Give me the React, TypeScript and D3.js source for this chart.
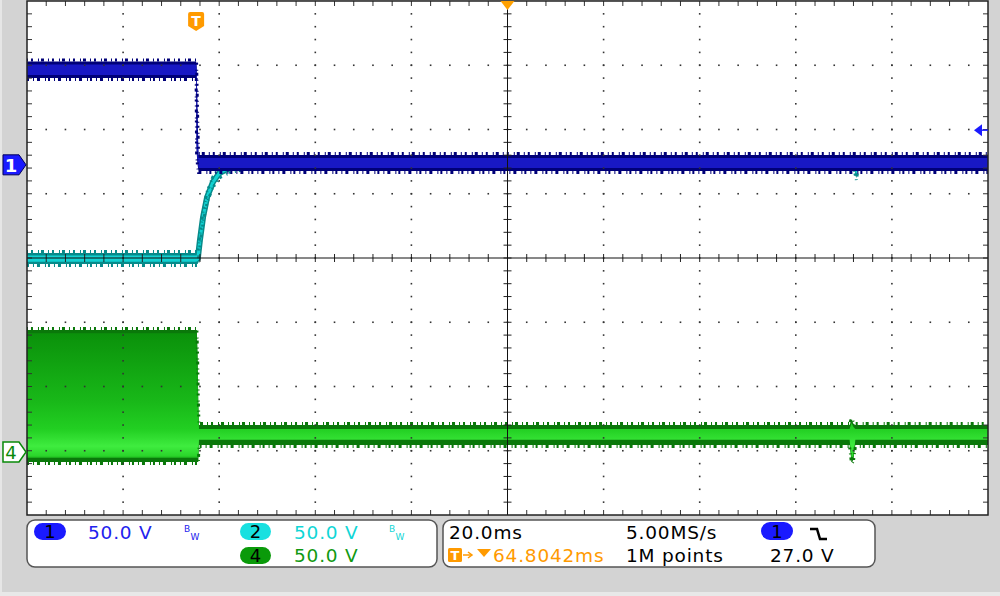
import React from "react";
import * as d3 from "d3";

const WIDTH = 1000;
const HEIGHT = 596;

// Oscilloscope settings
const TIME_PER_DIV = 20; // ms / div
const TRIGGER_DELAY = 64.8042; // ms
const X_DIVS = 10;
const Y_DIVS = 8;
const VOLTS_PER_DIV = 50;
const TRIGGER_LEVEL = 27.0; // V on ch1
const MINOR_PER_DIV = 5;

// channel ground offsets (divisions from screen centre)
const CH1_OFFSET = 1.45;
const CH2_OFFSET = 1.45;
const CH4_OFFSET = -3.02;

// Channel 1 (blue) envelope, volts vs ms
const ch1Time = [-35.2, 0.0, 0.1, 0.3, 0.5, 164.8];
const ch1High = [80.5, 80.5, 78, 40, 7.7, 7.7];
const ch1Low = [67.5, 67.5, 10, 0, -4.8, -4.8];
const ch1CoreHigh = [78.0, 78.0, 76, 30, 5.3, 5.3];
const ch1CoreLow = [70.0, 70.0, 14, 3, -2.5, -2.5];

// Channel 2 (cyan) envelope
const ch2Time = [-35.2, 0.35, 0.8, 1.45, 2.3, 3.5, 5.0, 7.1, 10.2, 136.9, 137.4, 137.8, 164.8];
const ch2High = [-68.6, -68.6, -55.5, -37.6, -22.0, -10.4, -2.6, 1.3, 3.6, 4.0, 4.0, 4.0, 4.0];
const ch2Low = [-77.2, -77.2, -61.5, -43.6, -28.0, -16.4, -8.6, -4.7, -2.4, -2.0, -10.5, -2.0, -2.0];
const ch2CoreHigh = [-70.5, -70.5, -56.8, -38.9, -23.3, -11.7, -3.9, 0.0, 2.3, 2.6, 2.6, 2.6, 2.6];
const ch2CoreLow = [-75.5, -75.5, -60.2, -42.3, -26.7, -15.1, -7.3, -3.4, -1.1, -0.6, -8.5, -0.6, -0.6];

// Channel 4 (green) envelope
const ch4Time = [-35.2, 0.15, 0.3, 0.45, 0.6, 136.0, 136.4, 136.8, 137.2, 164.8];
const ch4High = [95.0, 95.0, 75.0, 40.0, 21.0, 21.0, 25.0, 22.0, 21.0, 21.0];
const ch4Low = [-7.8, -7.8, -7.8, -7.8, 5.5, 5.5, -8.0, -6.0, 5.5, 5.5];
const ch4CoreHigh = [92.5, 92.5, 72.0, 36.0, 18.0, 18.0, 22.5, 19.5, 18.0, 18.0];
const ch4CoreLow = [-4.5, -4.5, -4.5, -4.5, 9.5, 9.5, -5.0, -3.5, 9.5, 9.5];

// Readout texts
const ch1Scale = "50.0 V";
const ch2Scale = "50.0 V";
const ch4Scale = "50.0 V";
const timeBase = "20.0ms";
const sampleRate = "5.00MS/s";
const triggerPos = "64.8042ms";
const recordLength = "1M points";
const triggerLevelText = "27.0 V";

// Layout
const PL = 27;
const PR = 988;
const PT = 1;
const PB = 515;

const xScale = d3
  .scaleLinear()
  .domain([TRIGGER_DELAY - (X_DIVS / 2) * TIME_PER_DIV, TRIGGER_DELAY + (X_DIVS / 2) * TIME_PER_DIV])
  .range([PL, PR]);
const yDiv = d3.scaleLinear().domain([-Y_DIVS / 2, Y_DIVS / 2]).range([PB, PT]);
const yVolt = (offset: number) => (v: number) => yDiv(offset + v / VOLTS_PER_DIV);

const FONT = "'DejaVu Sans', Verdana, sans-serif";

type BandProps = {
  time: number[];
  hi: number[];
  lo: number[];
  coreHi: number[];
  coreLo: number[];
  offset: number;
  outer: string;
  core: string;
  centerStroke?: number;
};

function Band({ time, hi, lo, coreHi, coreLo, offset, outer, core, centerStroke }: BandProps) {
  const y = yVolt(offset);
  const outerArea = d3
    .area<number>()
    .x((_, i) => xScale(time[i]))
    .y0((_, i) => y(lo[i]))
    .y1((_, i) => y(hi[i]));
  const coreArea = d3
    .area<number>()
    .x((_, i) => xScale(time[i]))
    .y0((_, i) => y(coreLo[i]))
    .y1((_, i) => y(coreHi[i]));
  const hiLine = d3
    .line<number>()
    .x((_, i) => xScale(time[i]))
    .y((_, i) => y(hi[i]));
  const loLine = d3
    .line<number>()
    .x((_, i) => xScale(time[i]))
    .y((_, i) => y(lo[i]));
  const midLine = d3
    .line<number>()
    .x((_, i) => xScale(time[i]))
    .y((_, i) => y((coreHi[i] + coreLo[i]) / 2));
  return (
    <g>
      {centerStroke ? (
        <path d={midLine(time) || ""} fill="none" stroke={outer} strokeWidth={centerStroke} strokeLinejoin="round" />
      ) : null}
      <path d={outerArea(time) || ""} fill={outer} />
      <path d={coreArea(time) || ""} fill={core} />
      {centerStroke ? (
        <path d={midLine(time) || ""} fill="none" stroke={core} strokeWidth={centerStroke - 3} strokeLinejoin="round" />
      ) : null}
      <path
        d={hiLine(time) || ""}
        transform="translate(0,-1.5)"
        fill="none"
        stroke={outer}
        strokeWidth={3}
        strokeDasharray="1 3 2 5 1 2 3 4"
      />
      <path
        d={loLine(time) || ""}
        transform="translate(0,1.5)"
        fill="none"
        stroke={outer}
        strokeWidth={3}
        strokeDasharray="2 4 1 3 3 5 1 2"
      />
    </g>
  );
}

function Graticule() {
  const x0 = xScale.domain()[0];
  const xMajor = d3.range(X_DIVS + 1).map((i) => x0 + i * TIME_PER_DIV);
  const yMajor = d3.range(Y_DIVS + 1).map((i) => -Y_DIVS / 2 + i);
  const xMinor = d3.range(X_DIVS * MINOR_PER_DIV + 1).map((i) => x0 + (i * TIME_PER_DIV) / MINOR_PER_DIV);
  const yMinor = d3.range(Y_DIVS * MINOR_PER_DIV + 1).map((i) => -Y_DIVS / 2 + i / MINOR_PER_DIV);
  const cx = xScale(TRIGGER_DELAY);
  const cy = yDiv(0);
  const dots: JSX.Element[] = [];
  xMajor.slice(1, -1).forEach((t, i) => {
    if (i === X_DIVS / 2 - 1) return;
    yMinor.slice(1, -1).forEach((d, j) => {
      dots.push(<rect key={`vx${i}-${j}`} x={xScale(t) - 0.8} y={yDiv(d) - 0.8} width={1.6} height={1.6} fill="#333" />);
    });
  });
  yMajor.slice(1, -1).forEach((d, i) => {
    if (i === Y_DIVS / 2 - 1) return;
    xMinor.slice(1, -1).forEach((t, j) => {
      dots.push(<rect key={`hy${i}-${j}`} x={xScale(t) - 0.8} y={yDiv(d) - 0.8} width={1.6} height={1.6} fill="#333" />);
    });
  });
  const ticks: JSX.Element[] = [];
  xMinor.slice(1, -1).forEach((t, j) => {
    const x = xScale(t);
    ticks.push(<line key={`tt${j}`} x1={x} x2={x} y1={PT} y2={PT + 5} stroke="#333" strokeWidth={1} />);
    ticks.push(<line key={`tb${j}`} x1={x} x2={x} y1={PB - 5} y2={PB} stroke="#333" strokeWidth={1} />);
    ticks.push(<line key={`tc${j}`} x1={x} x2={x} y1={cy - 4} y2={cy + 4} stroke="#222" strokeWidth={1} />);
  });
  yMinor.slice(1, -1).forEach((d, j) => {
    const y = yDiv(d);
    ticks.push(<line key={`tl${j}`} x1={PL} x2={PL + 5} y1={y} y2={y} stroke="#333" strokeWidth={1} />);
    ticks.push(<line key={`tr${j}`} x1={PR - 5} x2={PR} y1={y} y2={y} stroke="#333" strokeWidth={1} />);
    ticks.push(<line key={`tm${j}`} x1={cx - 4} x2={cx + 4} y1={y} y2={y} stroke="#222" strokeWidth={1} />);
  });
  return (
    <g>
      {dots}
      {ticks}
      <line x1={cx} x2={cx} y1={PT} y2={PB} stroke="#111" strokeWidth={1} />
      <line x1={PL} x2={PR} y1={cy} y2={cy} stroke="#111" strokeWidth={1} />
      <rect x={PL} y={PT} width={PR - PL} height={PB - PT} fill="none" stroke="#222" strokeWidth={1.5} />
    </g>
  );
}

function Pill({ x, y, w, h, fill, label }: { x: number; y: number; w: number; h: number; fill: string; label: string }) {
  return (
    <g>
      <rect x={x} y={y} width={w} height={h} rx={h / 2} fill={fill} />
      <text x={x + w / 2} y={y + h - 2.5} textAnchor="middle" fontFamily={FONT} fontSize={18} fill="#000">
        {label}
      </text>
    </g>
  );
}

function BwMark({ x, color }: { x: number; color: string }) {
  return (
    <g fontFamily={FONT} fontSize={9} fill={color}>
      <text x={x} y={532}>B</text>
      <text x={x + 6.5} y={540}>W</text>
    </g>
  );
}

export default function App() {
  const trigX = xScale(0);
  const ch1Y = yDiv(CH1_OFFSET);
  const ch4Y = yDiv(CH4_OFFSET);
  const trigLevelY = yVolt(CH1_OFFSET)(TRIGGER_LEVEL);
  const centerX = xScale(TRIGGER_DELAY);
  const txt = { fontFamily: FONT, fontSize: 18.5, letterSpacing: 0.8 } as const;

  return (
    <svg
      width={WIDTH}
      height={HEIGHT}
      viewBox={`0 0 ${WIDTH} ${HEIGHT}`}
      style={{ position: "absolute", left: 0, top: 0, display: "block" }}
    >
      <defs>
        <linearGradient
          id="greenBurst"
          gradientUnits="userSpaceOnUse"
          x1={0}
          x2={0}
          y1={yVolt(CH4_OFFSET)(95)}
          y2={yVolt(CH4_OFFSET)(-7.8)}
        >
          <stop offset="0" stopColor="#0a8f0a" />
          <stop offset="0.3" stopColor="#12a612" />
          <stop offset="0.55" stopColor="#19b919" />
          <stop offset="0.75" stopColor="#22cf22" />
          <stop offset="0.88" stopColor="#3fec3f" />
          <stop offset="0.95" stopColor="#2bd62b" />
          <stop offset="1" stopColor="#0c8a0c" />
        </linearGradient>
      </defs>
      <rect x={0} y={0} width={WIDTH} height={HEIGHT} fill="#d3d3d3" />
      <rect x={0} y={0} width={2} height={HEIGHT} fill="#e6e6e6" />
      <rect x={0} y={592} width={WIDTH} height={4} fill="#e8e8e8" />
      <rect x={PL} y={PT} width={PR - PL} height={PB - PT} fill="#ffffff" />

      {/* traces */}
      <Band time={ch4Time} hi={ch4High} lo={ch4Low} coreHi={ch4CoreHigh} coreLo={ch4CoreLow} offset={CH4_OFFSET} outer="#0a780a" core="url(#greenBurst)" />
      <Band time={ch2Time} hi={ch2High} lo={ch2Low} coreHi={ch2CoreHigh} coreLo={ch2CoreLow} offset={CH2_OFFSET} outer="#078a8a" core="#12d2d2" centerStroke={6} />
      <Band time={ch1Time} hi={ch1High} lo={ch1Low} coreHi={ch1CoreHigh} coreLo={ch1CoreLow} offset={CH1_OFFSET} outer="#000078" core="#1818c4" />

      <Graticule />

      {/* trigger position marker */}
      <path d={`M${centerX - 7},${PT} H${centerX + 7} L${centerX},${PT + 9} Z`} fill="#ffa000" />
      <g>
        <path
          d={`M${trigX - 6},12 H${trigX + 6} Q${trigX + 8},12 ${trigX + 8},14 V26 L${trigX},31 L${trigX - 8},26 V14 Q${trigX - 8},12 ${trigX - 6},12 Z`}
          fill="#ff9a00"
        />
        <text x={trigX} y={26} textAnchor="middle" fontFamily={FONT} fontSize={14} fontWeight="bold" fill="#fff">
          T
        </text>
      </g>

      {/* trigger level marker */}
      <line x1={PR - 12} x2={PR} y1={trigLevelY} y2={trigLevelY} stroke="#1a1aff" strokeWidth={1.5} />
      <path d={`M${PR - 14},${trigLevelY} L${PR - 6},${trigLevelY - 6} V${trigLevelY + 6} Z`} fill="#1a1aff" />

      {/* channel markers */}
      <g>
        <path d={`M3,${ch1Y - 10} H19 L26,${ch1Y} L19,${ch1Y + 10} H3 Z`} fill="#1a1aff" stroke="#00005a" strokeWidth={1} />
        <text x={11} y={ch1Y + 7} textAnchor="middle" fontFamily={FONT} fontSize={18} fontWeight="bold" fill="#fff">
          1
        </text>
      </g>
      <g>
        <path d={`M3,${ch4Y - 10} H19 L26,${ch4Y} L19,${ch4Y + 10} H3 Z`} fill="#fff" stroke="#0a8a0a" strokeWidth={1.5} />
        <text x={11} y={ch4Y + 7} textAnchor="middle" fontFamily={FONT} fontSize={18} fill="#0a8a0a">
          4
        </text>
      </g>

      {/* readout panels */}
      <rect x={27} y={520} width={410} height={47} rx={8} fill="#fff" stroke="#555" strokeWidth={1.5} />
      <rect x={443} y={520} width={432} height={47} rx={8} fill="#fff" stroke="#555" strokeWidth={1.5} />

      <Pill x={34} y={523} w={32} h={17} fill="#1a1aff" label="1" />
      <text x={88} y={539} {...txt} fill="#2222ee">{ch1Scale}</text>
      <BwMark x={184} color="#2222ee" />

      <Pill x={240} y={523} w={31} h={17} fill="#18e0e0" label="2" />
      <text x={294} y={539} {...txt} fill="#10d6d6">{ch2Scale}</text>
      <BwMark x={389} color="#10d6d6" />

      <Pill x={240} y={547} w={31} h={17} fill="#0a9a0a" label="4" />
      <text x={294} y={562} {...txt} fill="#119911">{ch4Scale}</text>

      <text x={449} y={539} {...txt} fill="#000">{timeBase}</text>
      <text x={626} y={539} {...txt} fill="#000">{sampleRate}</text>
      <Pill x={761} y={522} w={32} h={18} fill="#1a1aff" label="1" />
      <path d="M810,529 H817 L820,539 H827" fill="none" stroke="#000" strokeWidth={2.5} />

      <rect x={448} y={548} width={14} height={14} rx={1.5} fill="#ff9a00" />
      <text x={455} y={560} textAnchor="middle" fontFamily={FONT} fontSize={13} fontWeight="bold" fill="#fff">T</text>
      <line x1={463} x2={471} y1={555} y2={555} stroke="#ff9a00" strokeWidth={1.5} />
      <path d="M468,552 L472,555 L468,558" fill="none" stroke="#ff9a00" strokeWidth={1.5} />
      <path d="M477,549 H491 L484,557 Z" fill="#ff9a00" />
      <text x={493} y={562} {...txt} fill="#ff9a00">{triggerPos}</text>
      <text x={626} y={562} {...txt} fill="#000">{recordLength}</text>
      <text x={770} y={562} {...txt} fill="#000">{triggerLevelText}</text>
    </svg>
  );
}
